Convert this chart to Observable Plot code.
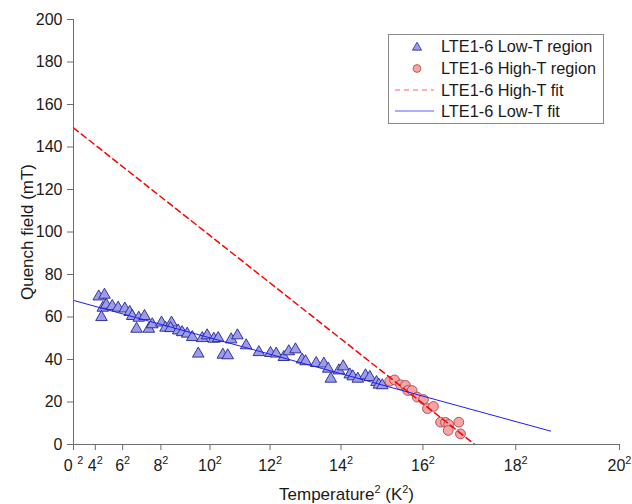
<!DOCTYPE html>
<html>
<head>
<meta charset="utf-8">
<script src="https://cdn.jsdelivr.net/npm/d3@7"></script>
<script src="https://cdn.jsdelivr.net/npm/@observablehq/plot@0.6"></script>
<style>
  html, body { margin: 0; padding: 0; background: white; }
  #chart { position: relative; width: 632px; height: 504px; }
</style>
</head>
<body>
<div id="chart"></div>
<script>
// Low-T region (triangles): Temperature^2 (K^2), Quench field (mT)
const lowT2 = [18.5, 22.7, 21.5, 24.0, 20.5, 28.4, 32.7, 37.6, 41.2, 43.0, 46.2, 47.8, 52.0, 55.2, 57.7,
  64.5, 67.4, 71.8, 71.1, 76.7, 79.6, 83.3, 87.0, 91.4, 94.3, 97.9, 102.8, 106.0, 109.4, 113.0,
  115.5, 120.1, 126.5, 135.8, 144.3, 148.5, 154.1, 157.7, 162.6, 167.5, 170.0, 177.8, 183.4, 186.6,
  188.5, 194.4, 197.6, 202.4, 204.6, 208.3, 213.9, 217.1, 222.0, 223.7, 226.2];
const lowQ = [69.6, 70.4, 64.3, 65.7, 59.9, 65.1, 64.3, 63.9, 62.3, 60.4, 54.4, 59.6, 60.4, 54.4, 56.5,
  57.3, 54.9, 57.3, 54.7, 53.6, 52.8, 52.1, 50.5, 42.7, 50.0, 51.3, 49.7, 50.0, 42.2, 41.9,
  49.4, 51.3, 46.6, 43.4, 43.0, 42.7, 41.1, 43.8, 44.7, 39.9, 39.1, 38.3, 38.0, 35.6,
  30.9, 34.8, 36.7, 32.9, 32.0, 30.9, 32.5, 31.7, 29.3, 28.1, 27.8];

// High-T region (circles)
const highT2 = [231.7, 235.2, 239.6, 243.2, 244.9, 248.1, 251.8, 256.4, 259.3, 263.7, 268.9, 272.5, 274.9, 274.5, 282.3, 283.5];
const highQ = [29.8, 30.4, 28.1, 27.8, 25.4, 25.4, 22.3, 21.2, 16.9, 17.9, 10.5, 10.4, 9.4, 6.6, 10.5, 5.0];

// Fit lines (end points)
const highFitT2 = [0, 294];
const highFitQ = [149, 0];
const lowFitT2 = [0, 349.5];
const lowFitQ = [67.8, 6.3];

// Axes
const xTickValues = [0, 16, 36, 64, 100, 144, 196, 256, 324, 400];
const xTickLabels = ["0 ²", "4²", "6²", "8²", "10²", "12²", "14²", "16²", "18²", "20²"];
const yTicks = [0, 20, 40, 60, 80, 100, 120, 140, 160, 180, 200];
const xLabel = "Temperature² (K²)";
const yLabel = "Quench field (mT)";

// Legend
const legendLabels = ["LTE1-6 Low-T region", "LTE1-6 High-T region", "LTE1-6 High-T fit", "LTE1-6 Low-T fit"];

const colors = {
  triFill: "#9c9cec", triStroke: "#25258c",
  cirFill: "#f7a4a4", cirStroke: "#a84848",
  red: "#ff0000", blue: "#1c1cff", axis: "#6e6e6e", text: "#1a1a1a"
};

const low = lowT2.map((t, i) => ({t, q: lowQ[i]}));
const high = highT2.map((t, i) => ({t, q: highQ[i]}));
const highFit = highFitT2.map((t, i) => ({t, q: highFitQ[i]}));
const lowFit = lowFitT2.map((t, i) => ({t, q: lowFitQ[i]}));
const labelMap = new Map(xTickValues.map((v, i) => [v, xTickLabels[i]]));

const FONT = "'Liberation Sans', Arial, Helvetica, sans-serif";

const svg = Plot.plot({
  width: 632, height: 504,
  marginLeft: 73, marginRight: 13, marginTop: 19, marginBottom: 60,
  x: {domain: [0, 400]},
  y: {domain: [0, 200]},
  style: {fontFamily: FONT, fontSize: "16px", color: colors.text, background: "white", overflow: "visible"},
  marks: [
    Plot.dot(low, {x: "t", y: "q", symbol: "triangle", r: 4.3, fill: colors.triFill, stroke: colors.triStroke, strokeWidth: 0.9}),
    Plot.dot(high, {x: "t", y: "q", symbol: "circle", r: 4.9, fill: colors.cirFill, stroke: colors.cirStroke, strokeWidth: 0.9}),
    Plot.line(highFit, {x: "t", y: "q", stroke: colors.red, strokeWidth: 1.5, strokeDasharray: "6,4"}),
    Plot.line(lowFit, {x: "t", y: "q", stroke: colors.blue, strokeWidth: 1}),
    Plot.axisX({ticks: xTickValues, tickFormat: d => labelMap.get(d), tickSize: 6, tickPadding: 9,
      stroke: colors.axis, label: null, fontSize: 16}),
    Plot.axisY({ticks: yTicks, tickSize: 6, tickPadding: 5, stroke: colors.axis, label: null, fontSize: 16}),
    Plot.ruleY([0], {x1: 0, x2: 400, stroke: colors.axis}),
    Plot.ruleX([0], {y1: 0, y2: 200, stroke: colors.axis}),
    Plot.text([xLabel], {frameAnchor: "bottom", dy: 50, lineAnchor: "middle", textAnchor: "middle", fontSize: 17, fill: colors.text}),
    Plot.text([yLabel], {frameAnchor: "left", dx: -46, rotate: -90, lineAnchor: "middle", textAnchor: "middle", fontSize: 17, fill: colors.text})
  ]
});

// Superscripts
d3.select(svg).selectAll("text").each(function() {
  const el = this;
  const txt = el.textContent;
  if (!txt.includes("²")) return;
  const base = parseFloat(getComputedStyle(el).fontSize) || 16;
  const sh = base * 0.42;
  const parts = txt.split("²");
  while (el.firstChild) el.removeChild(el.firstChild);
  const s = d3.select(el);
  parts.forEach((p, i) => {
    if (p.length) {
      const t = s.append("tspan").text(p);
      if (i > 0) t.attr("dy", sh);
    }
    if (i < parts.length - 1) {
      s.append("tspan").text("2").attr("font-size", base * 0.68).attr("dy", -sh);
    }
  });
});

// Legend
const lg = d3.select(svg).append("g").attr("font-family", FONT).attr("font-size", 16.3)
  .attr("fill", colors.text).attr("text-anchor", "start");
lg.append("rect").attr("x", 388.5).attr("y", 34.5).attr("width", 215).attr("height", 89)
  .attr("fill", "white").attr("stroke", "#8a8a8a").attr("stroke-width", 1);
const rowY = [46.5, 68.5, 90, 111];
const sx = 417;
lg.append("path").attr("d", d3.symbol(d3.symbolTriangle, 36)()).attr("transform", `translate(${sx},${rowY[0] + 1})`)
  .attr("fill", colors.triFill).attr("stroke", colors.triStroke).attr("stroke-width", 0.8);
lg.append("circle").attr("cx", sx).attr("cy", rowY[1]).attr("r", 3.9)
  .attr("fill", colors.cirFill).attr("stroke", colors.cirStroke).attr("stroke-width", 0.8);
lg.append("line").attr("x1", 395).attr("x2", 434).attr("y1", rowY[2]).attr("y2", rowY[2])
  .attr("stroke", "#ff6060").attr("stroke-width", 1).attr("stroke-dasharray", "5,4");
lg.append("line").attr("x1", 395).attr("x2", 434).attr("y1", rowY[3]).attr("y2", rowY[3])
  .attr("stroke", "#5a5aff").attr("stroke-width", 1);
legendLabels.forEach((l, i) => {
  lg.append("text").attr("x", 441).attr("y", rowY[i]).attr("dy", "0.35em").attr("text-anchor", "start").text(l);
});

document.getElementById("chart").appendChild(svg);
</script>
</body>
</html>
